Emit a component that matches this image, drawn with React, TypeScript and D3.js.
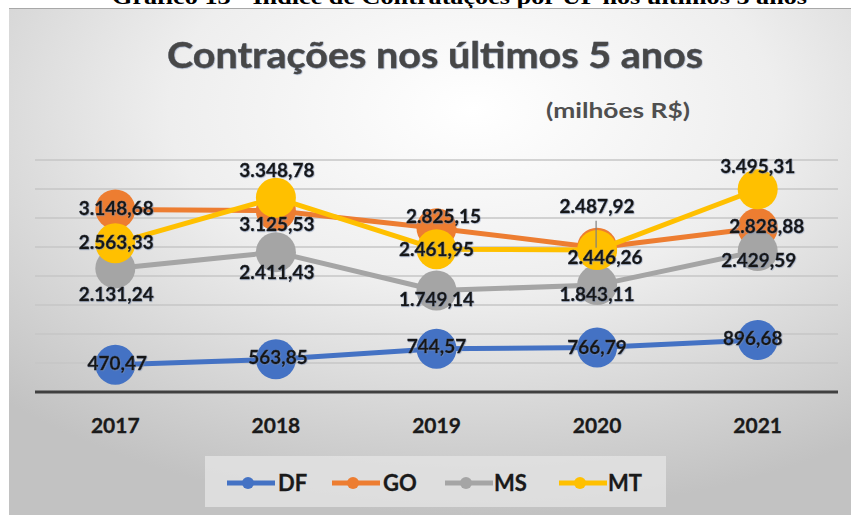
import React from "react";
import * as d3 from "d3";

const years = ["2017", "2018", "2019", "2020", "2021"];
const seriesNames = ["DF", "GO", "MS", "MT"];
const dfValues = [470.47, 563.85, 744.57, 766.79, 896.68];
const goValues = [3148.68, 3125.53, 2825.15, 2487.92, 2828.88];
const msValues = [2131.24, 2411.43, 1749.14, 1843.11, 2429.59];
const mtValues = [2563.33, 3348.78, 2461.95, 2446.26, 3495.31];
const seriesColors = ["#4472C4", "#ED7D31", "#A5A5A5", "#FFC000"];
const gridTicks = [500, 1000, 1500, 2000, 2500, 3000, 3500, 4000];

// label placement offsets [dx, dy] per series / year
const labelOffsets: number[][][] = [
  [[2, -1], [2, -2], [0, -2], [0, 0], [-5, -2]],
  [[1, -1], [1, 14], [7, -12], [0, -41], [9, -2]],
  [[1, 26], [1, 20], [0, 9], [0, 9], [1, 9]],
  [[1, -1], [1, -27], [0, 0], [8, 7], [0, -23]],
];

const W = 851;
const H = 515;

function fmt(v: number) {
  const [i, d] = v.toFixed(2).split(".");
  const withDots = i.replace(/\B(?=(\d{3})+(?!\d))/g, ".");
  return withDots + "," + d;
}

export default function App() {
  const seriesValues = [dfValues, goValues, msValues, mtValues];
  const x = d3.scaleBand<string>().domain(years).range([35, 838]);
  const cx = (yr: string) => (x(yr) as number) + x.bandwidth() / 2;
  const y = d3.scaleLinear().domain([0, 4000]).range([392, 160]);
  const line = d3
    .line<number>()
    .x((_, i) => cx(years[i]))
    .y((v) => y(v));

  const font = "Lato, 'Open Sans', sans-serif";
  const legendItems = [
    { lx: 227, tx: 278 },
    { lx: 332, tx: 383 },
    { lx: 445, tx: 494 },
    { lx: 559, tx: 608 },
  ];

  return (
    <svg
      width={W}
      height={H}
      style={{ position: "absolute", left: 0, top: 0, background: "#fff" }}
    >
      <defs>
        <radialGradient id="bg" cx="0.55" cy="0.2" r="0.8">
          <stop offset="0" stopColor="#ffffff" />
          <stop offset="0.45" stopColor="#eeeeee" />
          <stop offset="1" stopColor="#c2c2c2" />
        </radialGradient>
        <filter id="sh" x="-10%" y="-10%" width="120%" height="130%">
          <feDropShadow dx="0.6" dy="0.6" stdDeviation="0.6" floodColor="#7a8db0" floodOpacity="0.7" />
        </filter>
      </defs>
      <text
        x={112}
        y={4}
        fontFamily="'Liberation Serif', 'Times New Roman', serif"
        fontWeight="bold"
        fontSize={22}
        textLength={695}
        lengthAdjust="spacingAndGlyphs"
        fill="#000"
      >
        Gráfico 13 - Índice de Contratações por UF nos últimos 5 anos
      </text>
      <rect x={9} y={8} width={W - 9} height={H - 8} fill="url(#bg)" />
      <line x1={9} x2={W} y1={8.5} y2={8.5} stroke="#a8a8a8" strokeWidth={1} />

      <text
        x={167}
        y={68}
        fontFamily={font}
        fontWeight="bold"
        fontSize={36}
        fill="#474747"
        stroke="#474747"
        strokeWidth={0.4}
        textLength={536}
        lengthAdjust="spacingAndGlyphs"
        filter="url(#sh)"
      >
        Contrações nos últimos 5 anos
      </text>
      <text
        x={546}
        y={118}
        fontFamily={font}
        fontWeight="bold"
        fontSize={21}
        fill="#4f4f4f"
        textLength={144}
        lengthAdjust="spacingAndGlyphs"
      >
        (milhões R$)
      </text>

      {gridTicks.map((t) => (
        <line key={t} x1={35} x2={838} y1={y(t)} y2={y(t)} stroke="#c6c6c6" strokeWidth={1.5} />
      ))}
      <line x1={35} x2={838} y1={y(0)} y2={y(0)} stroke="#404040" strokeWidth={3} />

      {years.map((yr) => (
        <text
          key={yr}
          x={cx(yr)}
          y={433}
          textAnchor="middle"
          fontFamily={font}
          fontWeight="bold"
          fontSize={21}
          fill="#1a1a1a"
          stroke="#1a1a1a"
          strokeWidth={0.3}
        >
          {yr}
        </text>
      ))}

      {seriesValues.map((vals, s) => (
        <g key={seriesNames[s]}>
          <path d={line(vals) as string} fill="none" stroke={seriesColors[s]} strokeWidth={5} strokeLinejoin="round" />
          {vals.map((v, i) => (
            <circle key={i} cx={cx(years[i])} cy={y(v)} r={20} fill={seriesColors[s]} />
          ))}
        </g>
      ))}

      {/* leader line */}
      <line
        x1={cx(years[3]) - 1}
        x2={cx(years[3]) - 1}
        y1={y(goValues[3]) - 27}
        y2={y(goValues[3])}
        stroke="#7f7f7f"
        strokeWidth={1.2}
      />

      {seriesValues.map((vals, s) =>
        vals.map((v, i) => (
          <text
            key={seriesNames[s] + i}
            x={cx(years[i]) + labelOffsets[s][i][0]}
            y={y(v) + labelOffsets[s][i][1]}
            dy="0.35em"
            textAnchor="middle"
            fontFamily={font}
            fontWeight="bold"
            fontSize={19}
            fill="#141414"
            stroke="#141414"
            strokeWidth={0.35}
            filter="url(#sh)"
          >
            {fmt(v)}
          </text>
        ))
      )}

      <rect x={205} y={456} width={461} height={51} fill="#e2e2e2" opacity={0.85} />
      {seriesNames.map((n, s) => (
        <g key={n}>
          <line
            x1={legendItems[s].lx}
            x2={legendItems[s].lx + 48}
            y1={483}
            y2={483}
            stroke={seriesColors[s]}
            strokeWidth={5}
          />
          <circle cx={legendItems[s].lx + 21} cy={483} r={6} fill={seriesColors[s]} />
          <text
            x={legendItems[s].tx}
            y={491}
            fontFamily={font}
            fontWeight="bold"
            fontSize={22}
            fill="#1a1a1a"
            stroke="#1a1a1a"
            strokeWidth={0.3}
          >
            {n}
          </text>
        </g>
      ))}
    </svg>
  );
}
